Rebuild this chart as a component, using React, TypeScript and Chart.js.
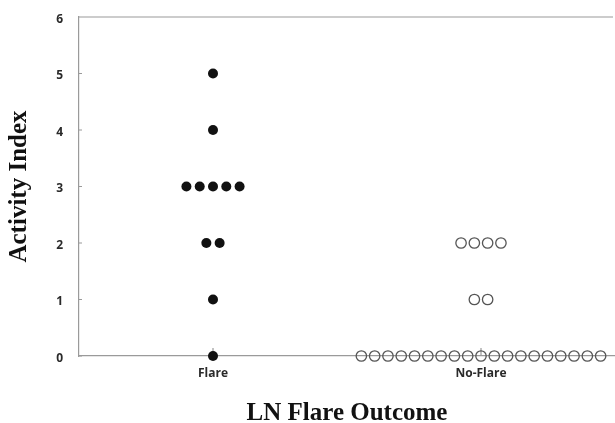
import { useEffect, useRef } from "react";
import { Chart, registerables } from "chart.js";

Chart.register(...registerables);

const categories = ["Flare", "No-Flare"];
const flareValues = [5, 4, 3, 3, 3, 3, 3, 2, 2, 1, 0];
const noFlareValues = [
  2, 2, 2, 2,
  1, 1,
  0, 0, 0, 0, 0, 0, 0, 0, 0, 0, 0, 0, 0, 0, 0, 0, 0, 0, 0,
];
const yTicks = [0, 1, 2, 3, 4, 5, 6];
const dotSpacing = 0.0496;

function dotPlot(values: number[], center: number) {
  const counts: Record<number, number> = {};
  values.forEach((v) => (counts[v] = (counts[v] || 0) + 1));
  const seen: Record<number, number> = {};
  return values.map((v) => {
    const n = counts[v];
    const i = (seen[v] = (seen[v] ?? -1) + 1);
    return { x: center + (i - (n - 1) / 2) * dotSpacing, y: v };
  });
}

const axisGray = "#9a9a9a";

const innerTicks = {
  id: "innerTicks",
  beforeDatasetsDraw(chart: any) {
    const { ctx, chartArea, scales } = chart;
    ctx.save();
    ctx.strokeStyle = axisGray;
    ctx.lineWidth = 1.2;
    ctx.beginPath();
    ctx.moveTo(chartArea.left, chartArea.top);
    ctx.lineTo(chartArea.right - 2, chartArea.top);
    categories.forEach((_, i) => {
      const px = scales.x.getPixelForValue(i + 1);
      ctx.moveTo(px, chartArea.bottom);
      ctx.lineTo(px, chartArea.bottom - 8);
    });
    yTicks.forEach((v) => {
      const py = scales.y.getPixelForValue(v);
      ctx.moveTo(chartArea.left, py);
      ctx.lineTo(chartArea.left + 3, py);
    });
    ctx.stroke();
    ctx.restore();
  },
};

export default function App() {
  const ref = useRef<HTMLCanvasElement>(null);
  useEffect(() => {
    if (!ref.current) return;
    const chart = new Chart(ref.current, {
      type: "scatter",
      data: {
        datasets: [
          {
            label: categories[0],
            data: dotPlot(flareValues, 1),
            backgroundColor: "#111111",
            borderColor: "#111111",
            borderWidth: 0,
            pointRadius: 5,
            clip: false as any,
          },
          {
            label: categories[1],
            data: dotPlot(noFlareValues, 2),
            backgroundColor: "rgba(0,0,0,0)",
            borderColor: "#555555",
            borderWidth: 1.3,
            pointRadius: 5.2,
            clip: false as any,
          },
        ],
      },
      plugins: [innerTicks],
      options: {
        responsive: false,
        animation: false,
        layout: { autoPadding: false, padding: { top: 17, right: 0, left: 0, bottom: 0 } },
        plugins: {
          legend: { display: false },
          tooltip: { enabled: false },
        },
        scales: {
          x: {
            type: "linear",
            min: 0.5,
            max: 2.5,
            afterFit: (s: any) => {
              s.height = 67;
              s.paddingLeft = 0;
              s.paddingRight = 0;
            },
            afterBuildTicks: (s: any) => {
              s.ticks = categories.map((_, i) => ({ value: i + 1 }));
            },
            grid: { display: false, drawTicks: false },
            border: { display: true, color: axisGray, width: 1.2 },
            ticks: {
              padding: 10,
              color: "#2a2a2a",
              font: { family: "Open Sans", size: 12, weight: "bold" },
              callback: (v: any) => categories[Number(v) - 1] ?? "",
            },
            title: {
              display: true,
              text: "LN Flare Outcome",
              color: "#111",
              font: { family: "Liberation Serif", size: 25, weight: "bold", lineHeight: 1 },
              padding: { top: 0, bottom: -3 },
            },
          },
          y: {
            min: 0,
            max: 6,
            afterFit: (s: any) => {
              s.width = 79;
              s.paddingTop = 0;
              s.paddingBottom = 0;
            },
            afterBuildTicks: (s: any) => {
              s.ticks = yTicks.map((v) => ({ value: v }));
            },
            grid: { display: false, drawTicks: false },
            border: { display: true, color: axisGray, width: 1.2 },
            ticks: {
              padding: 16,
              labelOffset: 2.5,
              color: "#2a2a2a",
              font: { family: "Open Sans", size: 12, weight: "bold" },
            },
            title: {
              display: true,
              text: "Activity Index",
              color: "#111",
              font: { family: "Liberation Serif", size: 25, weight: "bold", lineHeight: 1 },
              padding: { top: 7, bottom: 0 },
            },
          },
        },
      },
    });
    return () => chart.destroy();
  }, []);
  return (
    <div style={{ position: "absolute", left: 0, top: 0, width: 615, height: 423, background: "#fff" }}>
      <canvas ref={ref} width={615} height={423} style={{ display: "block" }} />
    </div>
  );
}
